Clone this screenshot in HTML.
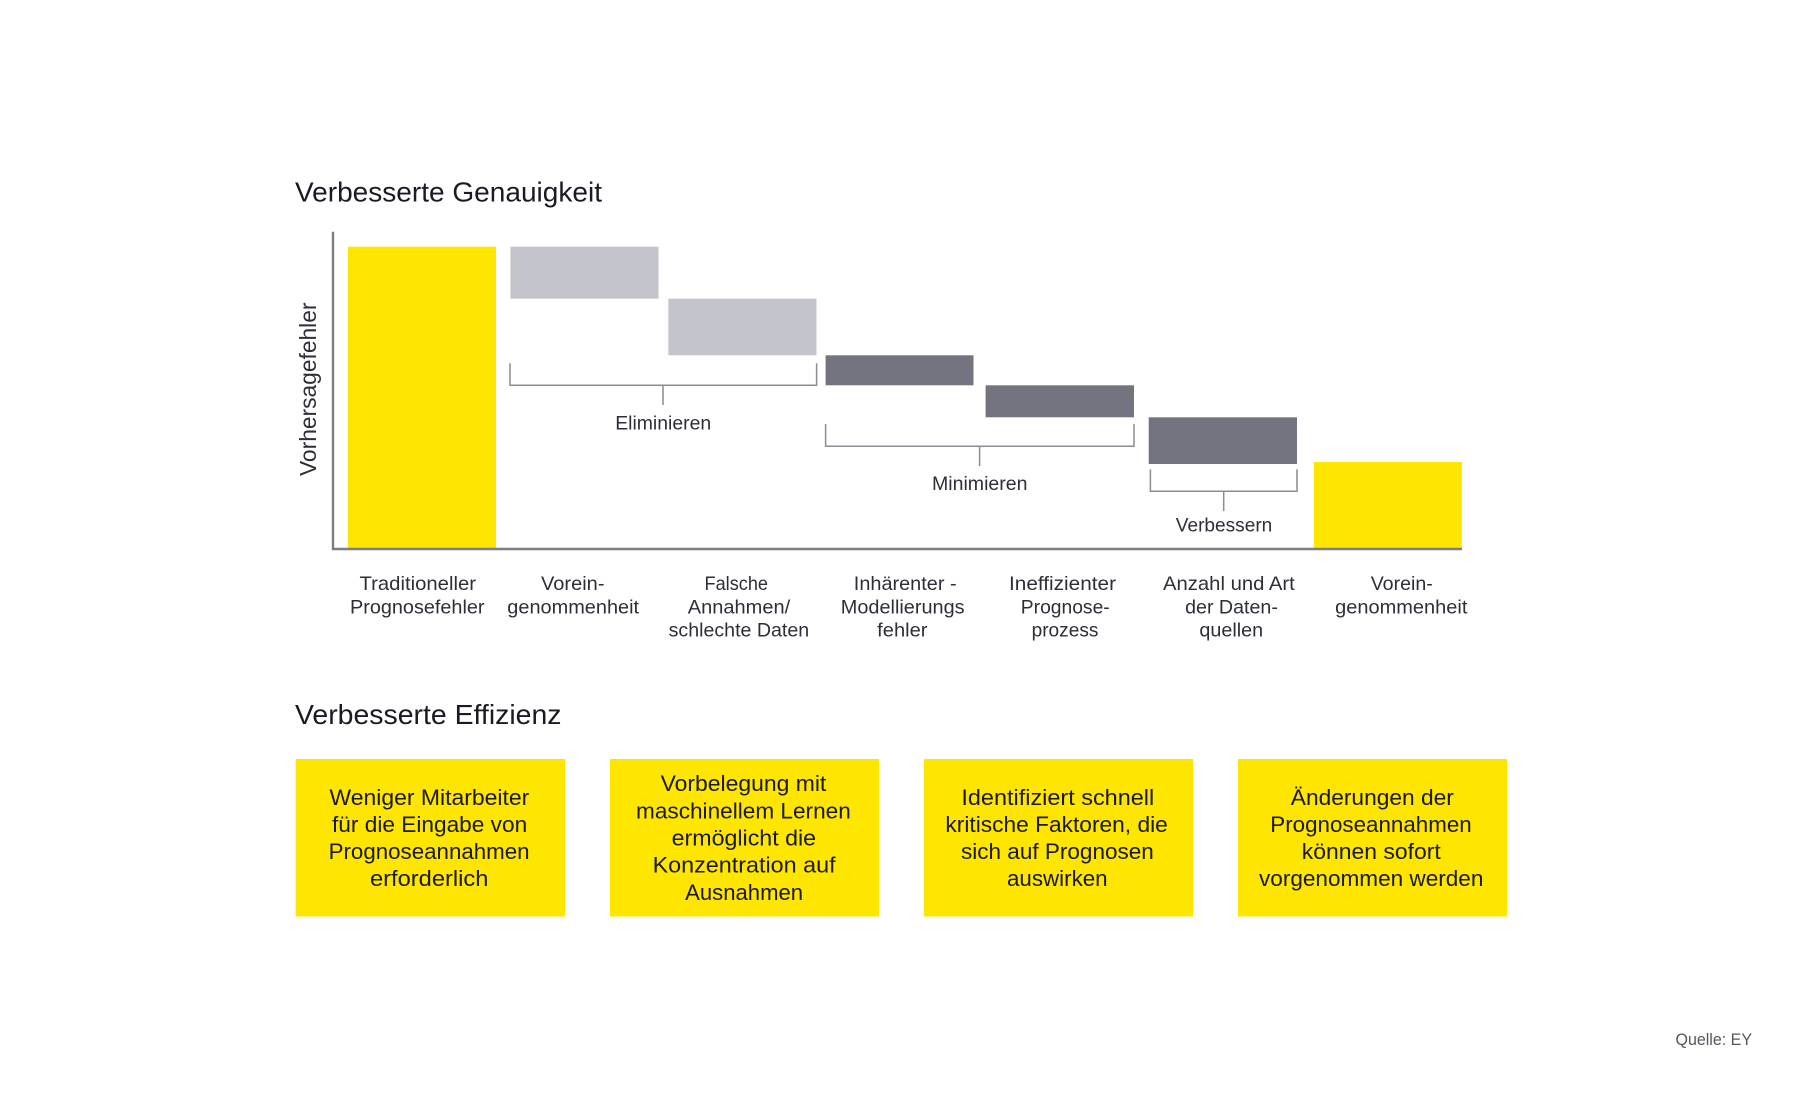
<!DOCTYPE html>
<html lang="de"><head><meta charset="utf-8"><title>Verbesserte Genauigkeit</title>
<style>
html,body{margin:0;padding:0;background:#fff}
svg{display:block}
text{font-family:"Liberation Sans",sans-serif;fill:#2e2e38}
.h{font-size:27.5px;fill:#1a1a24}
.l{font-size:19.5px}
.b{font-size:22.5px;fill:#1a1a10}
</style></head><body>
<svg width="1800" height="1093" viewBox="0 0 1800 1093" xmlns="http://www.w3.org/2000/svg">
<rect width="1800" height="1093" fill="#fff"/>
<text class="h" x="295" y="201.7" textLength="307" lengthAdjust="spacingAndGlyphs">Verbesserte Genauigkeit</text>
<text class="h" x="295" y="724" textLength="266.5" lengthAdjust="spacingAndGlyphs">Verbesserte Effizienz</text>

<rect x="348" y="246.7" width="148" height="302" fill="#ffe600"/>
<rect x="510.4" y="246.7" width="148.2" height="52" fill="#c4c4cd"/>
<rect x="668.3" y="298.7" width="148.2" height="56.6" fill="#c4c4cd"/>
<rect x="825.6" y="355.3" width="147.9" height="30" fill="#747480"/>
<rect x="985.6" y="385.3" width="148.4" height="32" fill="#747480"/>
<rect x="1148.7" y="417.3" width="148.3" height="46.7" fill="#747480"/>
<rect x="1314" y="462" width="147.8" height="86.5" fill="#ffe600"/>
<path d="M333 231.7V549H1462" fill="none" stroke="#7e7e84" stroke-width="2.4"/>

<g fill="none" stroke="#8c8c94" stroke-width="1.5">
<path d="M510 363.3V385.3H816.6V363.3M663 385.3V405"/>
<path d="M825.6 424V446.3H1134V424M979.6 446.3V466"/>
<path d="M1150.4 469.3V491.3H1297V469.3M1223.7 491.3V511"/>
</g>
<text class="l" x="615.2" y="429.3" textLength="96" lengthAdjust="spacingAndGlyphs">Eliminieren</text>
<text class="l" x="932" y="490" textLength="95.5" lengthAdjust="spacingAndGlyphs">Minimieren</text>
<text class="l" x="1175.8" y="531.7" textLength="96.5" lengthAdjust="spacingAndGlyphs">Verbessern</text>

<text x="316" y="476" transform="rotate(-90 316 476)" font-size="23.5" textLength="173.5" lengthAdjust="spacingAndGlyphs">Vorhersagefehler</text>

<text class="l" x="359.5" y="590" textLength="116.5" lengthAdjust="spacingAndGlyphs">Traditioneller</text>
<text class="l" x="350" y="613.3" textLength="134.5" lengthAdjust="spacingAndGlyphs">Prognosefehler</text>
<text class="l" x="541" y="590" textLength="63.5" lengthAdjust="spacingAndGlyphs">Vorein-</text>
<text class="l" x="507.3" y="613.3" textLength="131.8" lengthAdjust="spacingAndGlyphs">genommenheit</text>
<text class="l" x="704.5" y="590" textLength="63.5" lengthAdjust="spacingAndGlyphs">Falsche</text>
<text class="l" x="687.8" y="613.3" textLength="102.4" lengthAdjust="spacingAndGlyphs">Annahmen/</text>
<text class="l" x="668.6" y="636.7" textLength="140.6" lengthAdjust="spacingAndGlyphs">schlechte Daten</text>
<text class="l" x="853.8" y="590" textLength="102.8" lengthAdjust="spacingAndGlyphs">Inhärenter -</text>
<text class="l" x="840.8" y="613.3" textLength="123.8" lengthAdjust="spacingAndGlyphs">Modellierungs</text>
<text class="l" x="877.2" y="636.7" textLength="50.3" lengthAdjust="spacingAndGlyphs">fehler</text>
<text class="l" x="1009" y="590" textLength="107" lengthAdjust="spacingAndGlyphs">Ineffizienter</text>
<text class="l" x="1020.8" y="613.3" textLength="88.9" lengthAdjust="spacingAndGlyphs">Prognose-</text>
<text class="l" x="1031.6" y="636.7" textLength="66.8" lengthAdjust="spacingAndGlyphs">prozess</text>
<text class="l" x="1163" y="590" textLength="131.8" lengthAdjust="spacingAndGlyphs">Anzahl und Art</text>
<text class="l" x="1185.1" y="613.3" textLength="92.8" lengthAdjust="spacingAndGlyphs">der Daten-</text>
<text class="l" x="1199.4" y="636.7" textLength="63.7" lengthAdjust="spacingAndGlyphs">quellen</text>
<text class="l" x="1370.7" y="590" textLength="62.1" lengthAdjust="spacingAndGlyphs">Vorein-</text>
<text class="l" x="1335.2" y="613.3" textLength="132.2" lengthAdjust="spacingAndGlyphs">genommenheit</text>

<rect x="295.7" y="759" width="269.3" height="157.5" fill="#ffe600"/>
<rect x="610" y="759" width="269" height="157.5" fill="#ffe600"/>
<rect x="924" y="759" width="269" height="157.5" fill="#ffe600"/>
<rect x="1238" y="759" width="269" height="157.5" fill="#ffe600"/>

<text class="b" x="329.5" y="805" textLength="199.8" lengthAdjust="spacingAndGlyphs">Weniger Mitarbeiter</text>
<text class="b" x="332" y="832" textLength="195.2" lengthAdjust="spacingAndGlyphs">für die Eingabe von</text>
<text class="b" x="328.6" y="859" textLength="201" lengthAdjust="spacingAndGlyphs">Prognoseannahmen</text>
<text class="b" x="370" y="886" textLength="118.4" lengthAdjust="spacingAndGlyphs">erforderlich</text>

<text class="b" x="660.6" y="791" textLength="165.7" lengthAdjust="spacingAndGlyphs">Vorbelegung mit</text>
<text class="b" x="636" y="818.3" textLength="214.8" lengthAdjust="spacingAndGlyphs">maschinellem Lernen</text>
<text class="b" x="671.6" y="845.3" textLength="144.5" lengthAdjust="spacingAndGlyphs">ermöglicht die</text>
<text class="b" x="652.6" y="872.7" textLength="183" lengthAdjust="spacingAndGlyphs">Konzentration  auf</text>
<text class="b" x="685.1" y="900" textLength="118" lengthAdjust="spacingAndGlyphs">Ausnahmen</text>

<text class="b" x="961.4" y="805" textLength="192.8" lengthAdjust="spacingAndGlyphs">Identifiziert schnell</text>
<text class="b" x="945.4" y="832" textLength="222.4" lengthAdjust="spacingAndGlyphs">kritische Faktoren, die</text>
<text class="b" x="961" y="859" textLength="192.8" lengthAdjust="spacingAndGlyphs">sich auf Prognosen</text>
<text class="b" x="1007" y="886" textLength="100.6" lengthAdjust="spacingAndGlyphs">auswirken</text>

<text class="b" x="1290.8" y="805" textLength="163" lengthAdjust="spacingAndGlyphs">Änderungen der</text>
<text class="b" x="1270.3" y="832" textLength="201.4" lengthAdjust="spacingAndGlyphs">Prognoseannahmen</text>
<text class="b" x="1301.8" y="859" textLength="138.9" lengthAdjust="spacingAndGlyphs">können sofort</text>
<text class="b" x="1259" y="886" textLength="224.4" lengthAdjust="spacingAndGlyphs">vorgenommen werden</text>

<text x="1675.5" y="1044.8" font-size="17" style="fill:#55555f" textLength="76.5" lengthAdjust="spacingAndGlyphs">Quelle: EY</text>
</svg>
</body></html>
